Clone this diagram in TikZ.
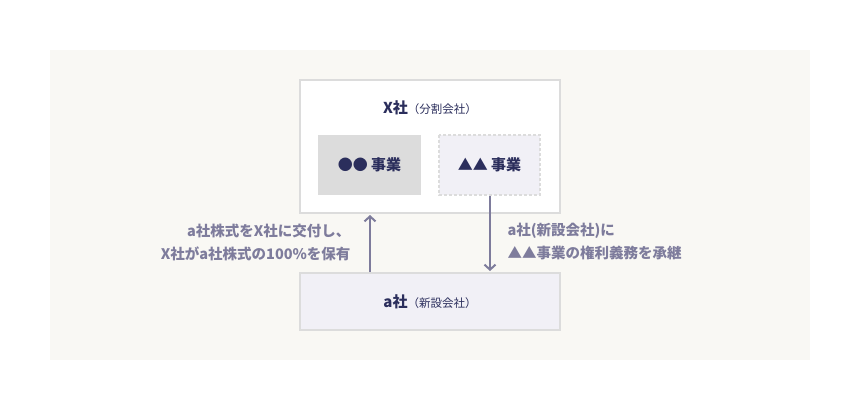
\documentclass[tikz,border=0pt]{standalone}
\usepackage{fontspec}
\setmainfont{Noto Sans CJK JP}
\usetikzlibrary{arrows.meta}
\definecolor{bgbeige}{HTML}{F9F8F4}
\definecolor{boxline}{HTML}{DCDCDC}
\definecolor{navy}{HTML}{2B2E5C}
\definecolor{arrowgray}{HTML}{7E7C9C}
\definecolor{lavender}{HTML}{F1F0F6}
\definecolor{darkgrey}{HTML}{DCDCDC}
\tikzset{
  box/.style={draw=boxline, line width=2pt},
  title/.style={text=navy, font=\fontsize{15}{17}\selectfont\bfseries},
  note/.style={text=arrowgray, font=\fontsize{14.5}{23}\selectfont\bfseries, align=left},
  link/.style={draw=arrowgray, line width=2pt, -{Straight Barb[length=5pt,width=11pt]}}
}
\begin{document}
\begin{tikzpicture}[x=1pt,y=-1pt]
\useasboundingbox (0,0) rectangle (860,410);
\fill[bgbeige] (50,50) rectangle (810,360);

% X company
\draw[box, fill=white] (300,80) rectangle (560,213);
\node (xtitle) at (430,108) {\textcolor{navy}{\fontsize{15}{17}\selectfont\bfseries X社}\textcolor{navy}{\fontsize{11.5}{13}\selectfont（分割会社）}};
\fill[darkgrey] (318,135) rectangle (421,195);
\node[title] (maru) at (369.5,165) {●● 事業};
\draw[boxline, line width=2pt, dash pattern=on 3pt off 2pt, fill=lavender] (439,135) rectangle (540,195);
\node[title] (sankaku) at (489.5,165) {▲▲ 事業};
\coordinate (split) at (490,196);

% a company
\draw[box, fill=lavender] (300,273) rectangle (560,330);
\node (atitle) at (430,302) {\textcolor{navy}{\fontsize{15}{17}\selectfont\bfseries a社}\textcolor{navy}{\fontsize{11.5}{13}\selectfont（新設会社）}};
\coordinate (aleft) at (370,272);
\coordinate (xbottom) at (370,215);
\coordinate (atop) at (490,271);

\draw[link] (aleft) -- (xbottom);
\draw[link] (split) -- (atop);

\node[note, align=right, anchor=east] (lefttext) at (354,242) {a社株式をX社に交付し、\\X社がa社株式の100\%を保有};
\node[note, anchor=west] (righttext) at (504,242) {a社(新設会社)に\\▲▲事業の権利義務を承継};
\end{tikzpicture}
\end{document}
